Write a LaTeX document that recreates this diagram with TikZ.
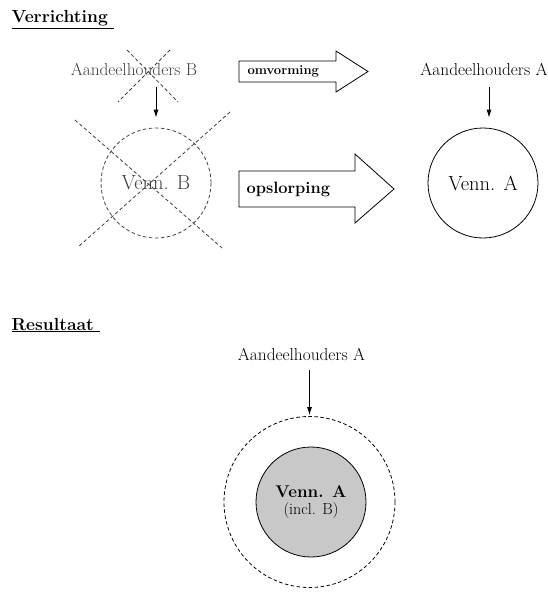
\documentclass[tikz,border=0pt]{standalone}
\usepackage{fontspec}
\usetikzlibrary{arrows.meta}
\tikzset{>={Latex[width=5pt,length=8pt]}}
\definecolor{fadegray}{HTML}{404040}
\definecolor{fillgray}{HTML}{C8C8C8}
\tikzset{
  kop/.style={anchor=base west, font=\fontsize{17.5}{20}\selectfont\bfseries},
  houder/.style={anchor=base, font=\fontsize{17.3}{20}\selectfont},
  venn/.style={circle, draw, thick, minimum size=110pt, inner sep=0pt,
    font=\fontsize{20.5}{23}\selectfont},
  kruis/.style={dash pattern=on 3.5pt off 2.5pt, thick, fadegray},
  pijl/.style={->, thick},
  blokpijl/.style={draw, thick, fill=white}
}
\begin{document}
\begin{tikzpicture}[x=1pt, y=-1pt]
  \useasboundingbox (0,0) rectangle (548,594);

  %% Verrichting
  \node[kop] (titel1) at (8,23) {\underline{Verrichting\ }};

  \node[houder, fadegray] (aB) at (134,75) {Aandeelhouders B};
  \node[venn, dash pattern=on 3.5pt off 2.5pt, fadegray] (vB) at (156,183) {Venn. B};
  \draw[pijl, shorten <=8pt, shorten >=10pt] (aB.south -| vB) -- (vB);
  % kruisen
  \draw[kruis] (127,50) -- (178,102);
  \draw[kruis] (170,50) -- (118,102);
  \draw[kruis] (75,120) -- (222,248);
  \draw[kruis] (230,112) -- (78,247);

  \node[houder] (aA) at (484,75) {Aandeelhouders A};
  \node[venn] (vA) at (483,183) {Venn. A};
  \draw[pijl, shorten <=8pt, shorten >=10pt] (aA.south -| 489,0) -- (vA.north -| 489,0);

  \draw[blokpijl] (239,61) -- (336,61) -- (336,51) -- (368,71.5)
    -- (336,92) -- (336,82) -- (239,82) -- cycle;
  \node[anchor=west, font=\fontsize{13}{15}\selectfont\bfseries] (omv) at (244,71.5) {omvorming};
  \draw[blokpijl] (239,171) -- (355,171) -- (355,154) -- (394,189)
    -- (355,223) -- (355,207) -- (239,207) -- cycle;
  \node[anchor=west, font=\fontsize{16.4}{19}\selectfont\bfseries] (ops) at (243,189) {opslorping};

  %% Resultaat
  \node[kop] (titel2) at (8,330) {\underline{Resultaat\ }};

  \node[houder] (aR) at (301.5,360) {Aandeelhouders A};
  \node[circle, draw, thick, dash pattern=on 3.5pt off 2.5pt,
    minimum size=171pt, inner sep=0pt] (buiten) at (309.5,502) {};
  \node[venn, fill=fillgray, align=center, font=\fontsize{17}{19}\selectfont\bfseries]
    (vR) at (311,502) {Venn. A\\[-2pt]{\fontsize{16}{18}\selectfont\mdseries (incl. B)}};
  \draw[pijl, shorten <=6pt, shorten >=1pt] (aR.south -| buiten) -- (buiten);
\end{tikzpicture}
\end{document}
